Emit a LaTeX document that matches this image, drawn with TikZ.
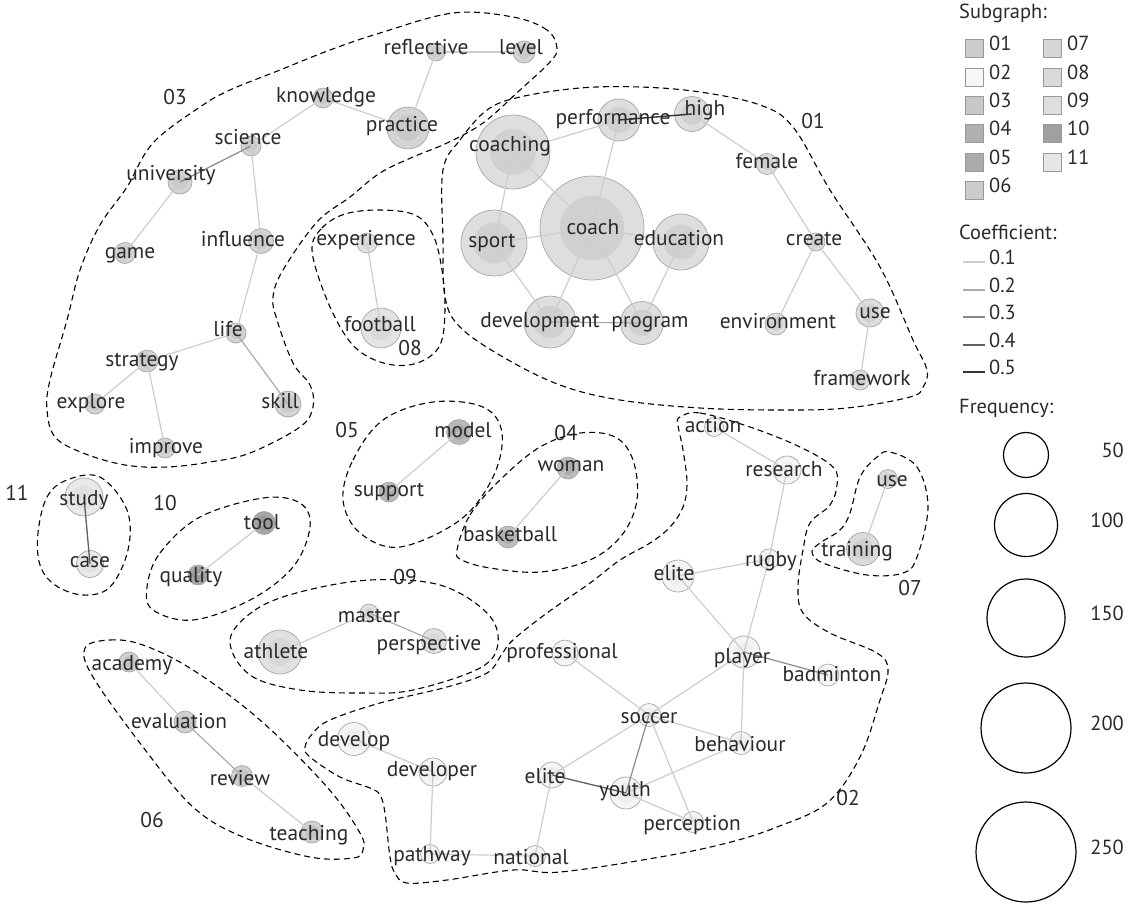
\documentclass[tikz,border=0pt]{standalone}
\usepackage{fontspec}
\setmainfont{PT Sans}
\definecolor{txt}{HTML}{2A2A2A}
\definecolor{nodeborder}{HTML}{A6A6A6}
\definecolor{o01}{HTML}{DEDEDE}\definecolor{i01}{HTML}{D0D0D0}
\definecolor{o02}{HTML}{F5F5F5}\definecolor{i02}{HTML}{EFEFEF}
\definecolor{o03}{HTML}{D4D4D4}\definecolor{i03}{HTML}{C9C9C9}
\definecolor{o04}{HTML}{BDBDBD}\definecolor{i04}{HTML}{ADADAD}
\definecolor{o05}{HTML}{BABABA}\definecolor{i05}{HTML}{ABABAB}
\definecolor{o06}{HTML}{D0D0D0}\definecolor{i06}{HTML}{C4C4C4}
\definecolor{o07}{HTML}{DBDBDB}\definecolor{i07}{HTML}{CFCFCF}
\definecolor{o08}{HTML}{E3E3E3}\definecolor{i08}{HTML}{D9D9D9}
\definecolor{o09}{HTML}{E1E1E1}\definecolor{i09}{HTML}{D7D7D7}
\definecolor{o10}{HTML}{A6A6A6}\definecolor{i10}{HTML}{999999}
\definecolor{o11}{HTML}{E9E9E9}\definecolor{i11}{HTML}{E1E1E1}
\definecolor{s01}{HTML}{CCCCCC}\definecolor{s02}{HTML}{F6F6F6}
\definecolor{s03}{HTML}{C8C8C8}\definecolor{s04}{HTML}{B0B0B0}
\definecolor{s05}{HTML}{ABABAB}\definecolor{s06}{HTML}{CCCCCC}
\definecolor{s07}{HTML}{D6D6D6}\definecolor{s08}{HTML}{DADADA}
\definecolor{s09}{HTML}{DEDEDE}\definecolor{s10}{HTML}{A0A0A0}
\definecolor{s11}{HTML}{E6E6E6}
\definecolor{ec1}{HTML}{CDCDCD}\definecolor{ec2}{HTML}{ABABAB}
\definecolor{ec3}{HTML}{8A8A8A}\definecolor{ec4}{HTML}{5E5E5E}
\definecolor{ec5}{HTML}{333333}
\newcommand\kwnode[5]{%
  \node[kwcircle, minimum size={2*#4pt}, fill=o#5] (#1) at (#2,#3) {};
  \fill[i#5] (#1.center) circle ({0.62*#4pt});}
\newcommand\kwedge[3]{\draw[e#3] (#1.center) -- (#2.center);}
\newcommand\kwlabel[4]{\node[lbl] (#1-t) at (#2,#3) {#4};}
\begin{document}
\begin{tikzpicture}[x=1pt,y=-1pt,
  kwcircle/.style={circle, inner sep=0pt, draw=nodeborder, line width=0.7pt},
  lbl/.style={font=\fontsize{21.4}{23}\selectfont, text=txt, inner sep=0pt, text height=0.7em, text depth=0.2em},
  grp/.style={font=\fontsize{21.4}{23}\selectfont, text=txt, inner sep=0pt, text height=0.7em, text depth=0.2em},
  e1/.style={draw=ec1, line width=1.2pt},
  e2/.style={draw=ec2, line width=1.2pt},
  e3/.style={draw=ec3, line width=1.2pt},
  e4/.style={draw=ec4, line width=1.3pt},
  e5/.style={draw=ec5, line width=1.4pt},
  hull/.style={draw=black, line width=1.1pt, dash pattern=on 6pt off 4pt},
  sq/.style={draw=gray!80, line width=0.6pt, minimum size=18pt, inner sep=0pt},
  lg/.style={font=\fontsize{20.4}{22}\selectfont, text=txt, inner sep=0pt, text height=0.7em, text depth=0.2em},
  fc/.style={circle, draw=black, line width=1.2pt, inner sep=0pt}]
\useasboundingbox (0,0) rectangle (1132,903);
% ---------- contours ----------
\draw[hull] plot[smooth cycle, tension=0.6] coordinates {(557,48) (547,30) (513,17) (453,13) (380,33) (330,50) (280,70) (230,90) (200,107) (153,143) (127,187) (100,225) (80,270) (67,320) (50,380) (47,410) (55,437) (83,453) (125,465) (167,467) (210,462) (250,453) (300,427) (313,407) (310,385) (293,363) (277,320) (273,297) (283,270) (317,222) (350,197) (380,173) (413,157) (447,143) (483,123) (520,90) (550,62)};
\draw[hull] plot[smooth cycle, tension=0.6] coordinates {(443,170) (460,140) (487,110) (520,97) (580,88) (640,87) (700,92) (760,105) (793,127) (830,190) (880,267) (913,340) (927,370) (923,387) (910,397) (847,408) (780,410) (700,408) (620,400) (560,385) (503,357) (460,327) (445,297) (443,240)};
\draw[hull] plot[smooth cycle, tension=0.6] coordinates {(312,250) (322,228) (345,214) (380,210) (415,215) (433,235) (442,270) (445,310) (440,345) (420,362) (393,365) (365,355) (345,335) (325,295)};
\draw[hull] plot[smooth cycle, tension=0.6] coordinates {(343,500) (353,460) (383,420) (433,402) (483,407) (502,433) (493,477) (460,520) (400,547) (360,533)};
\draw[hull] plot[smooth cycle, tension=0.6] coordinates {(457,550) (470,515) (500,480) (540,447) (580,433) (615,437) (633,460) (637,500) (622,535) (590,560) (540,572) (490,568) (462,560)};
\draw[hull] plot[smooth cycle, tension=0.6] coordinates {(38,533) (47,497) (67,480) (100,477) (127,510) (128,550) (110,587) (83,595) (55,585) (40,565)};
\draw[hull] plot[smooth cycle, tension=0.6] coordinates {(147,587) (160,553) (200,517) (263,498) (300,503) (310,527) (293,567) (250,600) (193,620) (153,610)};
\draw[hull] plot[smooth cycle, tension=0.6] coordinates {(230,640) (255,610) (300,592) (370,580) (440,585) (487,613) (498,643) (480,668) (413,690) (363,693) (300,690) (250,675)};
\draw[hull] plot[smooth cycle, tension=0.6] coordinates {(85,648) (110,640) (143,645) (193,670) (260,720) (327,787) (360,833) (363,850) (353,858) (310,857) (243,837) (193,807) (143,747) (93,677)};
\draw[hull] plot[smooth cycle, tension=0.6] coordinates {(890,452) (917,467) (928,507) (917,557) (903,573) (867,575) (823,563) (812,552) (820,543) (840,530) (850,513) (860,477) (877,457)};
\draw[hull] plot[smooth cycle, tension=0.6] coordinates {(680,417) (700,413) (750,427) (800,447) (833,467) (837,485) (830,505) (810,523) (803,550) (798,587) (803,613) (830,633) (877,653) (888,670) (880,700) (860,757) (827,803) (777,827) (727,843) (660,857) (560,872) (513,870) (447,880) (407,883) (395,873) (390,857) (385,813) (380,795) (370,788) (340,777) (310,757) (305,747) (313,733) (330,720) (380,703) (447,687) (487,673) (500,657) (513,640) (547,613) (590,583) (620,560) (650,543) (670,527) (683,507) (687,483) (683,450) (678,425)};
% ---------- group labels ----------
\node[grp] (g03) at (175,102) {03};
\node[grp] (g01) at (813,126) {01};
\node[grp] (g08) at (410,353) {08};
\node[grp] (g05) at (347,435) {05};
\node[grp] (g04) at (566,438) {04};
\node[grp] (g11) at (17,498) {11};
\node[grp] (g10) at (165,508) {10};
\node[grp] (g09) at (405,582) {09};
\node[grp] (g07) at (910,593) {07};
\node[grp] (g06) at (152,825) {06};
\node[grp] (g02) at (848,803) {02};
% ---------- nodes ----------
% 01
\kwnode{coach}{592}{228}{52}{01}
\kwnode{coaching}{513}{152}{37}{01}
\kwnode{performance}{619}{120}{21}{01}
\kwnode{high}{692}{114}{17.5}{01}
\kwnode{sport}{494}{243}{33}{01}
\kwnode{education}{681}{242}{28}{01}
\kwnode{development}{550}{322}{26}{01}
\kwnode{program}{642}{323}{21.5}{01}
\kwnode{female}{767}{164}{10.5}{01}
\kwnode{create}{816}{242}{9}{01}
\kwnode{use1}{870}{313}{14}{01}
\kwnode{environment}{776}{324}{11}{01}
\kwnode{framework}{860}{380}{10}{01}
% 03
\kwnode{reflective}{436}{52}{9}{03}
\kwnode{level}{524}{52}{11}{03}
\kwnode{knowledge}{323}{98}{10}{03}
\kwnode{practice}{408}{128}{21}{03}
\kwnode{science}{251}{146}{10}{03}
\kwnode{university}{180}{182}{12}{03}
\kwnode{game}{125}{253}{10.5}{03}
\kwnode{influence}{261}{241}{12.5}{03}
\kwnode{life}{236}{333}{10}{03}
\kwnode{strategy}{147}{361}{11}{03}
\kwnode{explore}{95}{404}{10}{03}
\kwnode{skill}{288}{404}{13}{03}
\kwnode{improve}{165}{448}{10}{03}
% 08
\kwnode{experience}{367}{243}{10}{08}
\kwnode{football}{381}{328}{20}{08}
% 05
\kwnode{model}{459}{432}{12.5}{05}
\kwnode{support}{389}{492}{10}{05}
% 04
\kwnode{woman}{568}{468}{11}{04}
\kwnode{basketball}{508}{537}{11}{04}
% 11
\kwnode{study}{84}{497}{19}{11}
\kwnode{case}{90}{564}{13.5}{11}
% 10
\kwnode{tool}{264}{523}{11.5}{10}
\kwnode{quality}{198}{575}{10}{10}
% 09
\kwnode{athlete}{280}{652}{22}{09}
\kwnode{master}{369}{613}{9}{09}
\kwnode{perspective}{434}{641}{12.5}{09}
% 06
\kwnode{academy}{129}{662}{10}{06}
\kwnode{evaluation}{185}{722}{11}{06}
\kwnode{review}{242}{776}{10.5}{06}
\kwnode{teaching}{312}{832}{11}{06}
% 07
\kwnode{use2}{888}{479}{9.5}{07}
\kwnode{training}{863}{549}{16.5}{07}
% 02
\kwnode{action}{714}{427}{9.5}{02}
\kwnode{research}{787}{470}{14}{02}
\kwnode{rugby}{769}{559}{10}{02}
\kwnode{eliteA}{678}{576}{16}{02}
\kwnode{player}{744}{652}{16}{02}
\kwnode{badminton}{828}{675}{11}{02}
\kwnode{professional}{565}{653}{13}{02}
\kwnode{soccer}{649}{715}{11.5}{02}
\kwnode{behaviour}{741}{743}{11.5}{02}
\kwnode{youth}{626}{793}{16}{02}
\kwnode{perception}{693}{822}{10.5}{02}
\kwnode{eliteB}{552}{775}{13}{02}
\kwnode{national}{535}{856}{10.5}{02}
\kwnode{pathway}{430}{854}{9.5}{02}
\kwnode{developer}{433}{772}{14}{02}
\kwnode{develop}{354}{739}{16.5}{02}
% ---------- edges ----------
\kwedge{coaching}{performance}{1}
\kwedge{performance}{high}{5}
\kwedge{coaching}{coach}{1}
\kwedge{coaching}{sport}{1}
\kwedge{performance}{coach}{1}
\kwedge{sport}{coach}{1}
\kwedge{coach}{education}{1}
\kwedge{sport}{development}{1}
\kwedge{coach}{development}{1}
\kwedge{coach}{program}{1}
\kwedge{development}{program}{2}
\kwedge{education}{program}{1}
\kwedge{high}{female}{1}
\kwedge{female}{create}{1}
\kwedge{create}{environment}{1}
\kwedge{create}{use1}{1}
\kwedge{use1}{framework}{1}
\kwedge{reflective}{level}{1}
\kwedge{reflective}{practice}{1}
\kwedge{knowledge}{practice}{1}
\kwedge{knowledge}{science}{1}
\kwedge{science}{university}{3}
\kwedge{university}{game}{1}
\kwedge{science}{influence}{1}
\kwedge{influence}{life}{1}
\kwedge{life}{strategy}{1}
\kwedge{life}{skill}{2}
\kwedge{strategy}{explore}{1}
\kwedge{strategy}{improve}{1}
\kwedge{experience}{football}{1}
\kwedge{model}{support}{1}
\kwedge{woman}{basketball}{1}
\kwedge{study}{case}{4}
\kwedge{tool}{quality}{1}
\kwedge{athlete}{master}{1}
\kwedge{master}{perspective}{2}
\kwedge{academy}{evaluation}{1}
\kwedge{evaluation}{review}{2}
\kwedge{review}{teaching}{1}
\kwedge{use2}{training}{1}
\kwedge{action}{research}{1}
\kwedge{research}{rugby}{1}
\kwedge{rugby}{eliteA}{1}
\kwedge{rugby}{player}{1}
\kwedge{eliteA}{player}{1}
\kwedge{player}{badminton}{3}
\kwedge{player}{soccer}{1}
\kwedge{player}{behaviour}{1}
\kwedge{professional}{soccer}{1}
\kwedge{soccer}{behaviour}{1}
\kwedge{soccer}{eliteB}{1}
\kwedge{soccer}{youth}{3}
\kwedge{soccer}{perception}{1}
\kwedge{behaviour}{youth}{1}
\kwedge{eliteB}{youth}{4}
\kwedge{youth}{perception}{1}
\kwedge{eliteB}{national}{1}
\kwedge{national}{pathway}{1}
\kwedge{pathway}{developer}{1}
\kwedge{developer}{develop}{1}
% ---------- labels ----------
\kwlabel{coach}{593}{232}{coach}
\kwlabel{coaching}{510}{149}{coaching}
\kwlabel{performance}{613}{122}{performance}
\kwlabel{high}{705}{113}{high}
\kwlabel{sport}{492}{245}{sport}
\kwlabel{education}{679}{243}{education}
\kwlabel{development}{540}{325}{development}
\kwlabel{program}{650}{325}{program}
\kwlabel{female}{767}{166}{female}
\kwlabel{create}{814}{243}{create}
\kwlabel{use1}{875}{316}{use}
\kwlabel{environment}{778}{326}{environment}
\kwlabel{framework}{862}{383}{framework}
\kwlabel{reflective}{426}{52}{reflective}
\kwlabel{level}{521}{52}{level}
\kwlabel{knowledge}{326}{100}{knowledge}
\kwlabel{practice}{402}{129}{practice}
\kwlabel{science}{248}{142}{science}
\kwlabel{university}{171}{178}{university}
\kwlabel{game}{130}{256}{game}
\kwlabel{influence}{243}{244}{influence}
\kwlabel{life}{228}{334}{life}
\kwlabel{strategy}{142}{364}{strategy}
\kwlabel{explore}{91}{406}{explore}
\kwlabel{skill}{280}{406}{skill}
\kwlabel{improve}{166}{451}{improve}
\kwlabel{experience}{366}{243}{experience}
\kwlabel{football}{380}{329}{football}
\kwlabel{model}{463}{435}{model}
\kwlabel{support}{389}{494}{support}
\kwlabel{woman}{571}{469}{woman}
\kwlabel{basketball}{510}{539}{basketball}
\kwlabel{study}{84}{503}{study}
\kwlabel{case}{90}{565}{case}
\kwlabel{tool}{262}{527}{tool}
\kwlabel{quality}{191}{580}{quality}
\kwlabel{athlete}{276}{656}{athlete}
\kwlabel{master}{369}{620}{master}
\kwlabel{perspective}{429}{648}{perspective}
\kwlabel{academy}{132}{668}{academy}
\kwlabel{evaluation}{179}{726}{evaluation}
\kwlabel{review}{240}{783}{review}
\kwlabel{teaching}{309}{838}{teaching}
\kwlabel{use2}{892}{484}{use}
\kwlabel{training}{857}{554}{training}
\kwlabel{action}{713}{430}{action}
\kwlabel{research}{784}{474}{research}
\kwlabel{rugby}{771}{564}{rugby}
\kwlabel{eliteA}{674}{578}{elite}
\kwlabel{player}{742}{661}{player}
\kwlabel{badminton}{832}{679}{badminton}
\kwlabel{professional}{562}{656}{professional}
\kwlabel{soccer}{649}{721}{soccer}
\kwlabel{behaviour}{740}{749}{behaviour}
\kwlabel{youth}{625}{794}{youth}
\kwlabel{perception}{692}{828}{perception}
\kwlabel{eliteB}{545}{781}{elite}
\kwlabel{national}{531}{862}{national}
\kwlabel{pathway}{432}{859}{pathway}
\kwlabel{developer}{432}{774}{developer}
\kwlabel{develop}{354}{744}{develop}
% ---------- legend ----------
\node[lg, anchor=west] (lsub) at (959,16) {Subgraph:};
\foreach \n/\y in {01/48,02/77,03/105,04/133,05/162,06/190}{
  \node[sq, fill=s\n] (sq\n) at (974,\y) {};
  \node[lg, anchor=west] (lt\n) at (989,\y) {\n};}
\foreach \n/\y in {07/48,08/77,09/105,10/133,11/162}{
  \node[sq, fill=s\n] (sq\n) at (1052,\y) {};
  \node[lg, anchor=west] (lt\n) at (1067,\y) {\n};}
\node[lg, anchor=west] (lcoef) at (959,237) {Coefficient:};
\foreach \v/\c/\y in {1/1/262,2/2/290,3/3/317,4/4/345,5/5/372}{
  \coordinate (ca\v) at (963,\y);
  \coordinate (cb\v) at (985,\y);
  \draw[e\c] (ca\v) -- (cb\v);
  \node[lg, anchor=west] (lc\v) at (989,\y) {0.\v};}
\node[lg, anchor=west] (lfreq) at (959,411) {Frequency:};
\foreach \f/\y/\r in {50/455/22.5,100/525/31.5,150/618/39,200/728/45,250/852/50}{
  \node[fc, minimum size={2*\r pt}] (fc\f) at (1026,\y) {};
  \node[lg, anchor=east] (lf\f) at (1124,\y) {\f};}
\end{tikzpicture}
\end{document}
